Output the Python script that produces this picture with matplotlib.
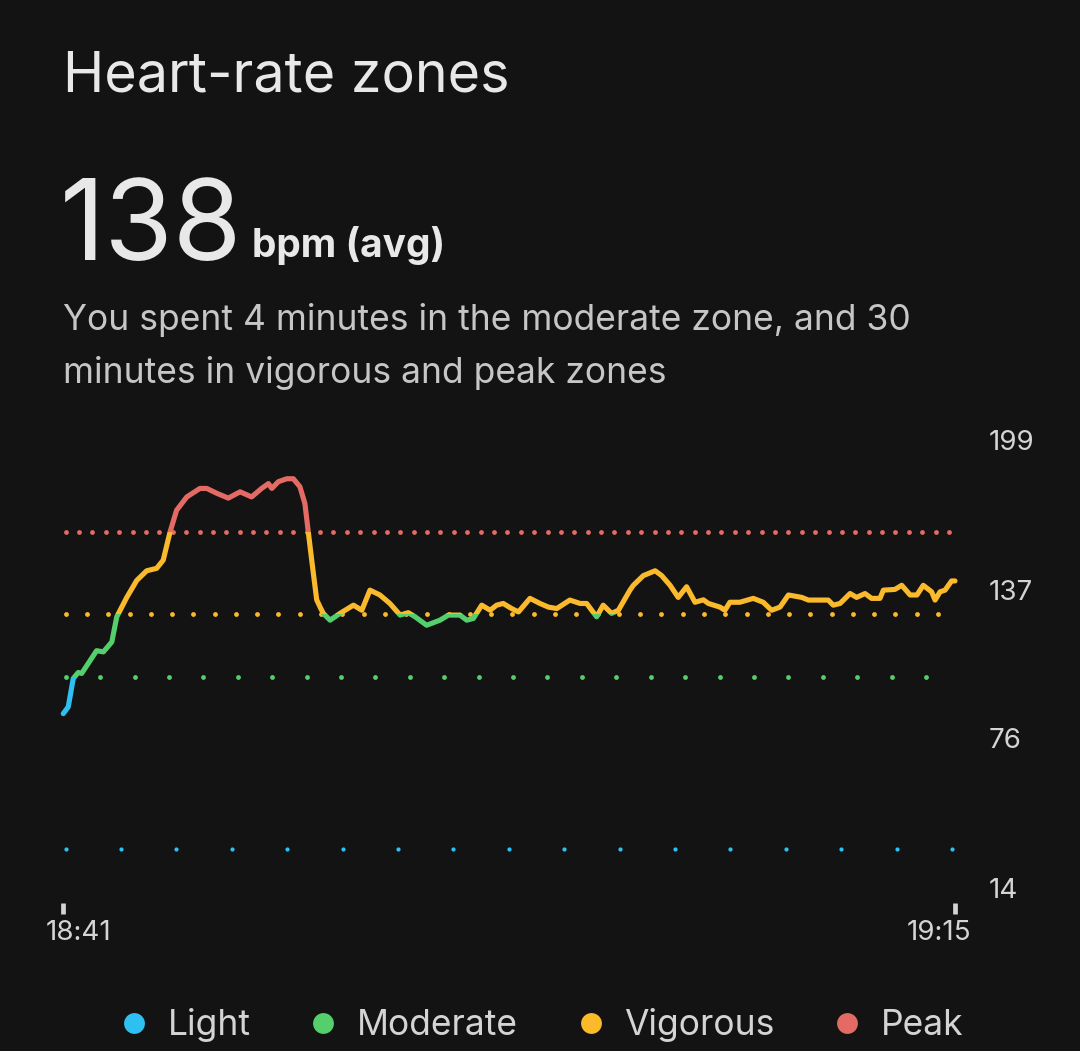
import numpy as np
import matplotlib
matplotlib.use("Agg")
import matplotlib.pyplot as plt
from matplotlib.patches import Rectangle
from matplotlib.lines import Line2D
import matplotlib.transforms as mtransforms

# ---------------- data ----------------
minutes = [0.01, 0.20, 0.39, 0.58, 0.71, 0.96, 1.28, 1.54, 1.86, 2.05, 2.43, 2.81,
           3.19, 3.57, 3.82, 4.08, 4.33, 4.72, 5.22, 5.48, 5.86, 6.30, 6.75, 7.19,
           7.57, 7.83, 7.96, 8.21, 8.53, 8.78, 9.03, 9.22, 9.35, 9.48, 9.67, 9.80,
           9.92, 10.18, 10.56, 11.07, 11.39, 11.70, 12.08, 12.46, 12.85, 13.16, 13.42,
           13.86, 14.37, 14.69, 15.13, 15.39, 15.64, 15.96, 16.28, 16.53, 16.78, 17.10,
           17.36, 17.80, 18.18, 18.50, 18.82, 19.32, 19.71, 19.96, 20.34, 20.59, 20.91,
           21.17, 21.61, 21.74, 22.12, 22.57, 22.82, 23.14, 23.45, 23.77, 24.09, 24.41,
           24.60, 25.04, 25.23, 25.42, 25.80, 26.31, 26.69, 27.01, 27.33, 27.65, 28.16,
           28.41, 29.17, 29.36, 29.62, 30.00, 30.25, 30.57, 30.82, 31.14, 31.27, 31.71,
           31.97, 32.29, 32.55, 32.79, 33.11, 33.24, 33.43, 33.62, 33.87, 34.00]
bpm = [86, 88.8, 100.5, 103, 102.6, 106.7, 112, 111.5, 115.6, 126, 134, 141,
       145, 146, 149.4, 161, 170, 175.5, 179, 179, 177, 175, 177.6, 175.5,
       179, 181, 179, 181.8, 183, 183, 179.7, 172.8, 161, 149.4, 133, 130,
       127.4, 124.6, 127.4, 130.8, 128.7, 137, 135, 131.5, 126.7, 127.7, 126,
       122.5, 124.6, 126.7, 126.7, 124.6, 125.3, 130.8, 128.7, 130.8, 131.5, 129.4,
       128, 133.6, 131.5, 130, 129.4, 132.9, 131.5, 131.5, 126, 130.8, 127.4,
       128.7, 137, 139, 143, 145, 143, 139, 134, 138.4, 132, 133,
       131.5, 130, 128.7, 132, 132, 133.6, 132, 128.7, 130, 135, 134,
       132.9, 132.9, 130.8, 131.5, 135.6, 134, 135.6, 133.6, 133.6, 137, 137.3,
       139, 135, 135, 139, 136.3, 132.9, 136.3, 137, 140.8, 140.8]

zone_names = ["Light", "Moderate", "Vigorous", "Peak"]
zone_colors = ["#2FC0F3", "#55CF6C", "#FBBA2C", "#E46B65"]
zone_thresholds = [30, 101, 127, 161]
ytick_values = [14, 76, 137, 199]
xtick_positions = [0, 34]
xtick_labels = ["18:41", "19:15"]
avg_bpm = 138
title = "Heart-rate zones"
summary = ["You spent 4 minutes in the moderate zone, and 30",
           "minutes in vigorous and peak zones"]

# ---------------- style ----------------
plt.rcParams['font.family'] = ['Inter', 'DejaVu Sans']
BG = "#131313"
W, H = 1080, 1051
fig = plt.figure(figsize=(W / 100, H / 100), dpi=100, facecolor=BG)


def fy(py):
    return 1 - py / H


ax = fig.add_axes([63 / W, 1 - 903 / H, (955 - 63) / W, (903 - 430) / H])
ax.set_facecolor(BG)
ax.set_xlim(0, 34)
ax.set_ylim(7.806, 203.13)
for s in ax.spines.values():
    s.set_visible(False)

# zone dotted reference lines (dot spacing in px, extent in px)
px_per_min = (955 - 63) / 34
dot_styles = [(55.5, 952, 4.2), (34.4, 926, 4.8), (21.27, 938, 4.8), (13.37, 949, 4.8)]
for thr, col, (sp, end_px, dpx) in zip(zone_thresholds, zone_colors, dot_styles):
    start = (65.7 - 63) / px_per_min
    end = (end_px - 63) / px_per_min
    n = int(round((end - start) / (sp / px_per_min))) + 1
    xs = np.linspace(start, end, n)
    ax.plot(xs, np.full_like(xs, thr), ls="none", marker="o", ms=dpx * 0.72,
            mfc=col, mec="none", zorder=2)

# heart-rate line coloured by zone using clipping bands
bands = [-1000] + zone_thresholds[1:] + [1000]
for i, col in enumerate(zone_colors):
    line, = ax.plot(minutes, bpm, color=col, lw=3.7, solid_capstyle="round",
                    solid_joinstyle="round", zorder=3)
    rect = Rectangle((-10, bands[i]), 60, bands[i + 1] - bands[i],
                     transform=ax.transData)
    line.set_clip_path(rect)

# axes ticks
ax.yaxis.tick_right()
ax.set_yticks(ytick_values)
ax.set_yticklabels([str(v) for v in ytick_values])
ax.tick_params(axis="y", length=0, pad=24, labelsize=20, labelcolor="#D4D4D4")
ax.set_xticks(xtick_positions)
ax.set_xticklabels(xtick_labels)
ax.tick_params(axis="x", direction="out", length=7.6, width=3.4, color="#D4D4D4",
               pad=5, labelsize=20, labelcolor="#D4D4D4")
xl = ax.get_xticklabels()
xl[0].set_transform(xl[0].get_transform() +
                    mtransforms.ScaledTranslation(0.16, 0, fig.dpi_scale_trans))
xl[1].set_transform(xl[1].get_transform() +
                    mtransforms.ScaledTranslation(-0.16, 0, fig.dpi_scale_trans))

# header texts
fig.text(63 / W, fy(91), title, fontsize=40, color="#E8E8E8", va="baseline")
t138 = fig.text(60 / W, fy(260), str(avg_bpm), fontsize=80, color="#E8E8E8",
                va="baseline")
fig.canvas.draw()
bb = t138.get_window_extent()
fig.text((bb.x1 + 10) / W, fy(257), "bpm (avg)", fontsize=28, fontweight="bold",
         color="#E8E8E8", va="baseline")
fig.text(63 / W, fy(330), summary[0], fontsize=25.5, color="#C6C6C6", va="baseline")
fig.text(63 / W, fy(383), summary[1], fontsize=25.5, color="#C6C6C6", va="baseline")

# legend
handles = [Line2D([], [], ls="none", marker="o", ms=15, mfc=c, mec="none")
           for c in zone_colors]
fig.legend(handles, zone_names, loc="center", bbox_to_anchor=(540 / W, fy(1025)),
           ncol=4, frameon=False, fontsize=25.5, labelcolor="#D4D4D4",
           handlelength=1.0, handletextpad=0.45, columnspacing=1.55,
           borderpad=0, borderaxespad=0)

fig.savefig("out.png", dpi=100, facecolor=BG)
